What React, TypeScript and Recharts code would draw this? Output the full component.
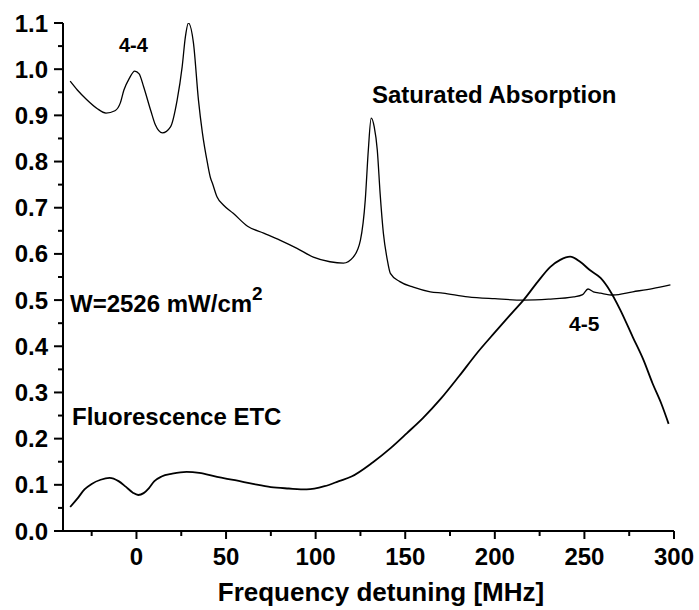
import { Customized, Line, LineChart, XAxis, YAxis } from "recharts";

const WIDTH = 699;
const HEIGHT = 610;
const FONT = '"Liberation Sans", Arial, Helvetica, sans-serif';

// tick values
const X_MAJOR = [0, 50, 100, 150, 200, 250, 300];
const X_MINOR = [-25, 25, 75, 125, 175, 225, 275];
const Y_MAJOR = [0, 0.1, 0.2, 0.3, 0.4, 0.5, 0.6, 0.7, 0.8, 0.9, 1.0, 1.1];
const Y_MINOR = [0.05, 0.15, 0.25, 0.35, 0.45, 0.55, 0.65, 0.75, 0.85, 0.95, 1.05];

// saturated absorption trace
const ABS_X = [
  -37, -33, -28, -22, -17, -12, -9, -7, -4, -1, 1.5, 4, 8, 10.6, 14.5, 19, 22.7, 25.5, 27.3, 29,
  31.8, 34.6, 36.8, 39.6, 41.3, 42.4, 45, 48.5, 54, 62, 71, 80, 89.6, 98.7, 108, 115.5, 121, 125,
  127.7, 129.4, 131, 132.7, 134.4, 136, 137.8, 140, 141.7, 147, 154.5, 164, 171, 185, 200, 216,
  230, 244, 249, 252, 255, 259, 266, 277, 288, 298,
];
const ABS_Y = [
  0.974, 0.955, 0.935, 0.915, 0.905, 0.91, 0.927, 0.955, 0.98, 0.996, 0.99, 0.962, 0.91, 0.879,
  0.862, 0.875, 0.933, 1.005, 1.07, 1.1, 1.057, 0.933, 0.862, 0.797, 0.765, 0.753, 0.723, 0.706,
  0.688, 0.66, 0.645, 0.63, 0.612, 0.593, 0.583, 0.58, 0.593, 0.63, 0.717, 0.825, 0.894, 0.875,
  0.825, 0.73, 0.645, 0.587, 0.558, 0.54, 0.528, 0.518, 0.515, 0.507, 0.503, 0.5, 0.502, 0.507,
  0.512, 0.524, 0.518, 0.515, 0.511, 0.518, 0.525, 0.533,
];

// fluorescence ETC trace
const FLU_X = [
  -37, -33, -29, -25, -20, -15, -10, -6, -2, 1, 4, 7, 10, 14, 20, 28, 35, 45, 55, 65, 75, 85, 95,
  105, 113, 120, 132, 142, 151, 160, 170, 180, 190, 200, 210, 216, 224, 231, 236.5, 242, 247.6,
  253, 259, 264, 270, 277, 283, 288, 293, 297,
];
const FLU_Y = [
  0.052, 0.07, 0.09, 0.102, 0.111, 0.115, 0.108, 0.096, 0.083, 0.078, 0.082, 0.093, 0.108, 0.118,
  0.124, 0.128, 0.126, 0.117, 0.11, 0.102, 0.095, 0.092, 0.09, 0.097, 0.108, 0.118, 0.149, 0.18,
  0.212, 0.245, 0.287, 0.335, 0.385, 0.43, 0.474, 0.5, 0.54, 0.572, 0.587, 0.594, 0.583, 0.565,
  0.548, 0.522, 0.479, 0.42, 0.37, 0.32, 0.275, 0.232,
];

const absData = ABS_X.map((x, i) => ({ x, y: ABS_Y[i] }));
const fluData = FLU_X.map((x, i) => ({ x, y: FLU_Y[i] }));

const isMajorY = (v: number) => Math.round(v * 100) % 10 === 0;

function XTick(props: any) {
  const { x, y, payload } = props;
  const v = payload.value as number;
  const major = X_MAJOR.includes(v);
  return (
    <g>
      <line x1={x} x2={x} y1={y} y2={y + (major ? 8 : 5)} stroke="#000" strokeWidth={2} />
      {major && (
        <text x={x} y={y + 34} textAnchor="middle" fontSize={24} fontWeight="bold" fontFamily={FONT} fill="#000">
          {v}
        </text>
      )}
    </g>
  );
}

function YTick(props: any) {
  const { x, y, payload } = props;
  const v = payload.value as number;
  const major = isMajorY(v);
  return (
    <g>
      <line x1={x} x2={x - (major ? 9 : 5)} y1={y} y2={y} stroke="#000" strokeWidth={2} />
      {major && (
        <text x={x - 15} y={y + 8.5} textAnchor="end" fontSize={24} fontWeight="bold" fontFamily={FONT} fill="#000">
          {v.toFixed(1)}
        </text>
      )}
    </g>
  );
}

function Notes() {
  const t = { fontWeight: "bold", fontFamily: FONT, fill: "#000" } as const;
  return (
    <g>
      <text x={119} y={52} fontSize={20} {...t}>4-4</text>
      <text x={372} y={103} fontSize={24} {...t}>Saturated Absorption</text>
      <text x={70} y={312} fontSize={24} {...t}>
        W=2526 mW/cm<tspan dy={-12} fontSize={19}>2</tspan>
      </text>
      <text x={569} y={331} fontSize={21} {...t}>4-5</text>
      <text x={72} y={425} fontSize={24} {...t}>Fluorescence ETC</text>
      <text x={381} y={601} fontSize={26} textAnchor="middle" {...t}>Frequency detuning [MHz]</text>
    </g>
  );
}

export default function App() {
  return (
    <div style={{ position: "absolute", left: 0, top: 0, width: WIDTH, height: HEIGHT, background: "#fff" }}>
      <LineChart width={WIDTH} height={HEIGHT} margin={{ top: 23, right: 25, left: 0, bottom: 0 }}>
        <XAxis
          type="number"
          dataKey="x"
          domain={[-41, 300]}
          ticks={[...X_MINOR, ...X_MAJOR].sort((a, b) => a - b)}
          interval={0}
          height={79}
          tickSize={0}
          tickMargin={0}
          tickLine={false}
          tick={<XTick />}
          axisLine={{ stroke: "#000", strokeWidth: 2 }}
          allowDataOverflow
        />
        <YAxis
          type="number"
          domain={[0, 1.1]}
          ticks={[...Y_MINOR, ...Y_MAJOR].sort((a, b) => a - b)}
          interval={0}
          width={63}
          tickSize={0}
          tickMargin={0}
          tickLine={false}
          tick={<YTick />}
          axisLine={{ stroke: "#000", strokeWidth: 2 }}
          allowDataOverflow
        />
        <Line
          data={absData}
          dataKey="y"
          type="monotone"
          stroke="#000"
          strokeWidth={1.3}
          dot={false}
          isAnimationActive={false}
        />
        <Line
          data={fluData}
          dataKey="y"
          type="monotone"
          stroke="#000"
          strokeWidth={1.8}
          dot={false}
          isAnimationActive={false}
        />
        <Customized component={Notes} />
      </LineChart>
    </div>
  );
}
